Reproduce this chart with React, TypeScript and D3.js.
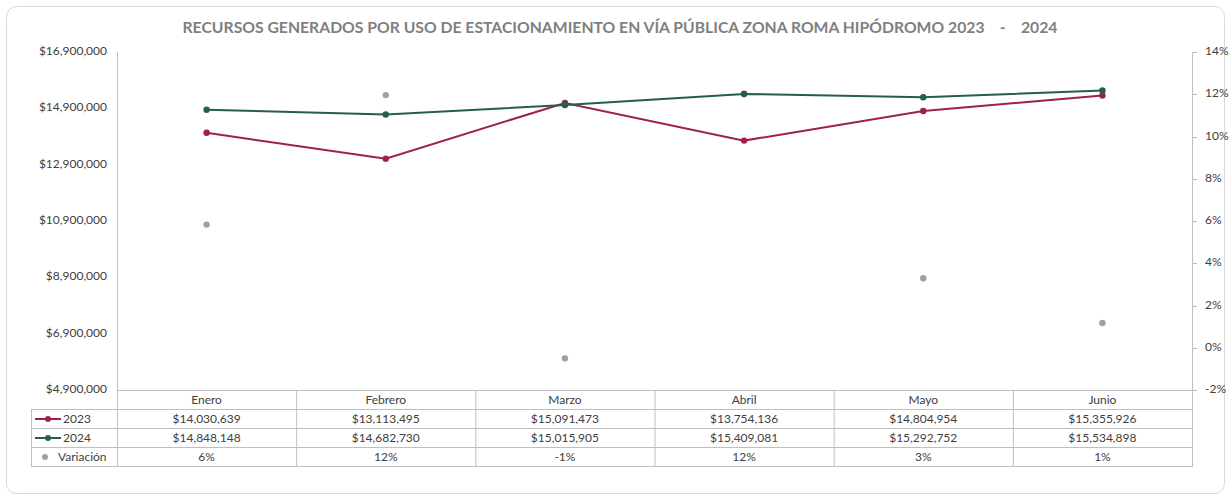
import React from "react";
import * as d3 from "d3";

const months = ["Enero", "Febrero", "Marzo", "Abril", "Mayo", "Junio"];
const values2023 = [14030639, 13113495, 15091473, 13754136, 14804954, 15355926];
const values2024 = [14848148, 14682730, 15015905, 15409081, 15292752, 15534898];
const variacion = [0.0583, 0.1196, -0.00501, 0.1203, 0.0329, 0.0117];
const leftTicks = [4900000, 6900000, 8900000, 10900000, 12900000, 14900000, 16900000];
const rightTicks = [-0.02, 0, 0.02, 0.04, 0.06, 0.08, 0.1, 0.12, 0.14];

const W = 1231;
const H = 499;
const C2023 = "#9d2148";
const C2024 = "#255e4c";
const CVAR = "#a0a0a0";
const GRID = "#bfbfbf";
const TXT = "#404040";
const FONT = "Lato, 'Open Sans', sans-serif";

const fmtMoney = (v: number) => "$" + d3.format(",")(v);
const fmtPct = (v: number) => {
  const r = Math.sign(v) * Math.round(Math.abs(v) * 100);
  return (r === 0 ? 0 : r) + "%";
};

export default function App() {
  const left = 117;
  const right = 1192;
  const top = 52;
  const bottom = 390;
  const rowH = 19;

  const x = d3.scaleBand<string>().domain(months).range([left, right]).padding(0);
  const cx = (m: string) => (x(m) as number) + x.bandwidth() / 2;
  const yL = d3.scaleLinear().domain([4900000, 16900000]).range([bottom, top]);
  const yR = d3.scaleLinear().domain([-0.02, 0.14]).range([bottom, top]);

  const line = d3
    .line<number>()
    .x((_, i) => cx(months[i]))
    .y((d) => yL(d));

  const tableLeft = 31;
  const rowsTop = bottom + rowH; // start of 2023 row
  const rows = [
    { key: "2023", color: C2023, type: "line", vals: values2023.map(fmtMoney) },
    { key: "2024", color: C2024, type: "line", vals: values2024.map(fmtMoney) },
    { key: "Variación", color: CVAR, type: "dot", vals: variacion.map(fmtPct) },
  ];
  const tableBottom = rowsTop + rows.length * rowH;

  return (
    <svg width={W} height={H} style={{ position: "absolute", left: 0, top: 0, background: "#fff" }} fontFamily={FONT}>
      <rect x={6.5} y={6.5} width={1218} height={487} rx={10} ry={10} fill="#fff" stroke="#d9d9d9" strokeWidth={1} />
      <text
        x={620}
        y={33}
        textAnchor="middle"
        fontSize={16}
        fontWeight={700}
        fill="#7f7f7f"
        textLength={875}
        lengthAdjust="spacingAndGlyphs"
        style={{ whiteSpace: "pre" }}
      >
        {"RECURSOS GENERADOS POR USO DE ESTACIONAMIENTO EN VÍA PÚBLICA ZONA ROMA HIPÓDROMO 2023    -    2024"}
      </text>

      {/* left axis */}
      <line x1={left + 0.5} x2={left + 0.5} y1={top} y2={bottom} stroke={GRID} />
      {leftTicks.map((t) => (
        <text key={t} x={107} y={yL(t)} textAnchor="end" dominantBaseline="middle" fontSize={12} fill={TXT}>
          {fmtMoney(t)}
        </text>
      ))}

      {/* right axis */}
      <line x1={right + 0.5} x2={right + 0.5} y1={top} y2={bottom} stroke={GRID} />
      {rightTicks.map((t) => (
        <g key={t}>
          <line x1={right + 0.5} x2={right + 5} y1={Math.round(yR(t)) + 0.5} y2={Math.round(yR(t)) + 0.5} stroke={GRID} />
          <text x={1205} y={yR(t)} dominantBaseline="middle" fontSize={12} fill={TXT}>
            {fmtPct(t)}
          </text>
        </g>
      ))}

      {/* table */}
      <line x1={left} x2={right + 1} y1={bottom + 0.5} y2={bottom + 0.5} stroke={GRID} />
      {months.map((m) => (
        <text key={m} x={cx(m)} y={bottom + rowH / 2 + 1} textAnchor="middle" dominantBaseline="middle" fontSize={12} fill={TXT}>
          {m}
        </text>
      ))}
      {[0, 1, 2, 3].map((i) => (
        <line key={i} x1={tableLeft} x2={right + 1} y1={rowsTop + i * rowH + 0.5} y2={rowsTop + i * rowH + 0.5} stroke={GRID} />
      ))}
      <line x1={tableLeft + 0.5} x2={tableLeft + 0.5} y1={rowsTop} y2={tableBottom} stroke={GRID} />
      {months.concat(["_end"]).map((m, i) => {
        const xx = i < months.length ? (x(m) as number) : right;
        return <line key={m} x1={xx + 0.5} x2={xx + 0.5} y1={bottom} y2={tableBottom} stroke={GRID} />;
      })}
      {rows.map((r, ri) => {
        const yy = rowsTop + ri * rowH + rowH / 2;
        return (
          <g key={r.key}>
            {r.type === "line" ? (
              <g>
                <line x1={35} x2={61} y1={yy + 0.5} y2={yy + 0.5} stroke={r.color} strokeWidth={2} />
                <circle cx={48} cy={yy + 0.5} r={3} fill={r.color} />
                <text x={63} y={yy + 1} dominantBaseline="middle" fontSize={12} fill={TXT}>
                  {r.key}
                </text>
              </g>
            ) : (
              <g>
                <circle cx={45} cy={yy + 0.5} r={3} fill={r.color} />
                <text x={58} y={yy + 1} dominantBaseline="middle" fontSize={12} fill={TXT}>
                  {r.key}
                </text>
              </g>
            )}
            {r.vals.map((v, i) => (
              <text key={i} x={cx(months[i])} y={yy + 1} textAnchor="middle" dominantBaseline="middle" fontSize={12} fill={TXT}>
                {v}
              </text>
            ))}
          </g>
        );
      })}

      {/* variación dots */}
      {variacion.map((v, i) => (
        <circle key={"v" + i} cx={cx(months[i])} cy={yR(v)} r={3.2} fill={CVAR} />
      ))}

      {/* lines */}
      <path d={line(values2023) as string} fill="none" stroke={C2023} strokeWidth={2} />
      {values2023.map((v, i) => (
        <circle key={"a" + i} cx={cx(months[i])} cy={yL(v)} r={3.2} fill={C2023} />
      ))}
      <path d={line(values2024) as string} fill="none" stroke={C2024} strokeWidth={2} />
      {values2024.map((v, i) => (
        <circle key={"b" + i} cx={cx(months[i])} cy={yL(v)} r={3.2} fill={C2024} />
      ))}
    </svg>
  );
}
